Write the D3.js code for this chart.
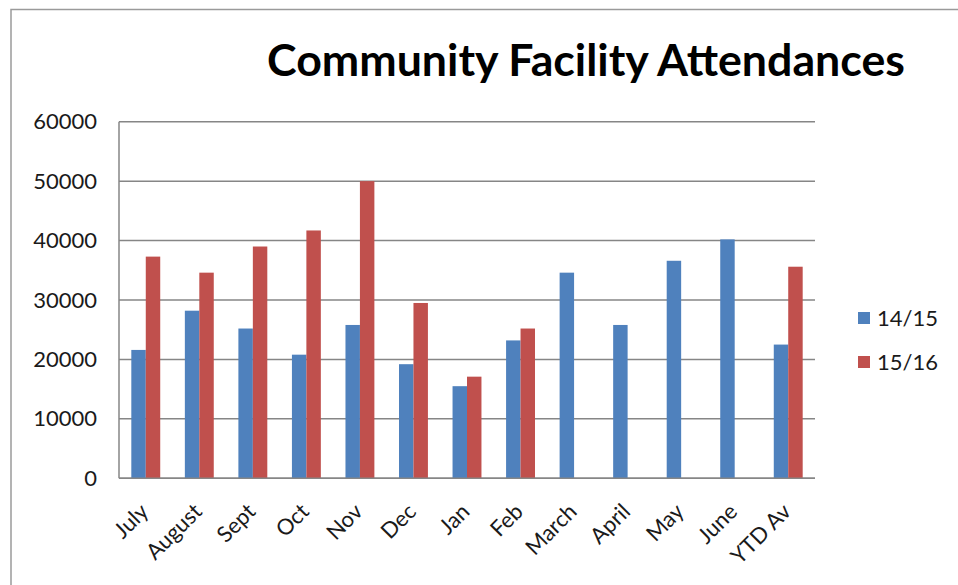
<!DOCTYPE html>
<html>
<head>
<meta charset="utf-8">
<script src="https://cdn.jsdelivr.net/npm/d3@7"></script>
<style>
  body { margin: 0; background: #fff; }
  svg { display: block; }
</style>
</head>
<body>
<svg id="chart"></svg>
<script>
// data
const months = ["July", "August", "Sept", "Oct", "Nov", "Dec", "Jan", "Feb", "March", "April", "May", "June", "YTD Av"]
const seriesNames = ["14/15", "15/16"]
const values1415 = [21600, 28200, 25200, 20800, 25800, 19200, 15500, 23200, 34600, 25800, 36600, 40200, 22500]
const values1516 = [37300, 34600, 39000, 41700, 50000, 29500, 17100, 25200, null, null, null, null, 35600]
const yTicks = [0, 10000, 20000, 30000, 40000, 50000, 60000]

const colours = ["#4F81BD", "#C0504D"]
const gridColour = "#868686"

const width = 958, height = 585
const plot = {left: 119, right: 815, top: 121.7, bottom: 478.3}

const svg = d3.select("#chart")
  .attr("width", width)
  .attr("height", height)

// outer chart border (only top + left show in the crop)
svg.append("path")
  .attr("d", `M11,${height} V9.5 H${width}`)
  .attr("fill", "none")
  .attr("stroke", "#9a9a9a")
  .attr("stroke-width", 1.5)

const x = d3.scaleBand()
  .domain(months)
  .range([plot.left, plot.right])
  .paddingInner(0.46)
  .paddingOuter(0.23)

const xInner = d3.scaleBand()
  .domain(seriesNames)
  .range([0, x.bandwidth()])

const y = d3.scaleLinear()
  .domain([0, 60000])
  .range([plot.bottom, plot.top])

// gridlines
svg.append("g")
  .selectAll("line")
  .data(yTicks)
  .enter().append("line")
  .attr("x1", plot.left)
  .attr("x2", plot.right)
  .attr("y1", d => y(d))
  .attr("y2", d => y(d))
  .attr("stroke", gridColour)
  .attr("stroke-width", 1.5)

// left axis line
svg.append("line")
  .attr("x1", plot.left).attr("x2", plot.left)
  .attr("y1", plot.top).attr("y2", plot.bottom)
  .attr("stroke", gridColour)
  .attr("stroke-width", 1.5)

// y tick labels
const yAxis = svg.append("g")
  .attr("transform", `translate(${plot.left - 22},0)`)
  .call(d3.axisLeft(y).tickValues(yTicks).tickSize(0).tickPadding(0).tickFormat(d3.format("d")))
yAxis.select(".domain").remove()
yAxis.selectAll("text")
  .attr("font-family", "Lato, sans-serif")
  .attr("font-size", 22)
  .attr("fill", "#1a1a1a")

// bars
const rows = months.map((m, i) => ({month: m, vals: [values1415[i], values1516[i]]}))

svg.append("g")
  .selectAll("g")
  .data(rows)
  .enter().append("g")
  .attr("transform", d => `translate(${x(d.month)},0)`)
  .selectAll("rect")
  .data(d => d.vals.map((v, i) => ({name: seriesNames[i], value: v, i: i})).filter(d => d.value != null))
  .enter().append("rect")
  .attr("x", d => xInner(d.name))
  .attr("width", xInner.bandwidth())
  .attr("y", d => y(d.value))
  .attr("height", d => y(0) - y(d.value))
  .attr("fill", d => colours[d.i])

// bottom axis line drawn over bars
svg.append("line")
  .attr("x1", plot.left).attr("x2", plot.right)
  .attr("y1", plot.bottom).attr("y2", plot.bottom)
  .attr("stroke", gridColour)
  .attr("stroke-width", 1.5)

// x labels, rotated
svg.append("g")
  .selectAll("text")
  .data(months)
  .enter().append("text")
  .attr("transform", d => `translate(${x(d) + x.bandwidth() / 2 + 4},513) rotate(-45)`)
  .attr("text-anchor", "end")
  .attr("font-family", "Lato, sans-serif")
  .attr("font-size", 22)
  .attr("fill", "#1a1a1a")
  .text(d => d)

// title
const title = svg.append("text")
  .attr("x", 586)
  .attr("y", 76)
  .attr("text-anchor", "middle")
  .attr("font-family", "Lato, sans-serif")
  .attr("font-weight", "bold")
  .attr("font-size", 40)
  .attr("fill", "#000")
  .text("Community Facility Attendances")
const tw = title.node().getComputedTextLength()
title.attr("font-size", 40 * 638 / tw)

// legend
const legend = svg.append("g")
  .selectAll("g")
  .data(seriesNames)
  .enter().append("g")
  .attr("transform", (d, i) => `translate(858,${318 + i * 44})`)

legend.append("rect")
  .attr("x", 0)
  .attr("y", -6)
  .attr("width", 12)
  .attr("height", 12)
  .attr("fill", (d, i) => colours[i])

legend.append("text")
  .attr("x", 19)
  .attr("y", 0)
  .attr("dy", "0.36em")
  .attr("font-family", "Lato, sans-serif")
  .attr("font-size", 22)
  .attr("fill", "#1a1a1a")
  .text(d => d)
</script>
</body>
</html>
